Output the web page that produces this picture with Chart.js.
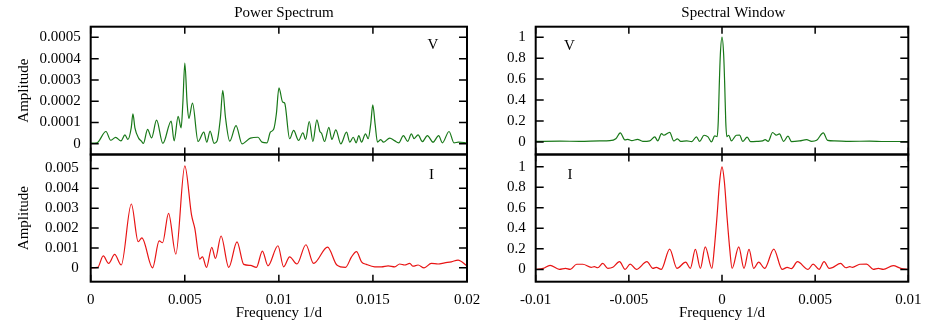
<!DOCTYPE html>
<html>
<head>
<meta charset="utf-8">
<script src="https://cdn.jsdelivr.net/npm/chart.js@4.4.0/dist/chart.umd.min.js"></script>
<style>
  html, body { margin: 0; padding: 0; background: #fff; }
  #wrap { position: relative; width: 926px; height: 324px; }
  #wrap canvas { position: absolute; left: 0; top: 0; }
</style>
</head>
<body>
<div id="wrap">
  <canvas id="psV" width="926" height="324"></canvas>
  <canvas id="psI" width="926" height="324"></canvas>
  <canvas id="swV" width="926" height="324"></canvas>
  <canvas id="swI" width="926" height="324"></canvas>
</div>
<script>
// Power spectrum, V band (frequency 1/d, amplitude)
const psFreqV = [0, 0.000334, 0.000812, 0.001061, 0.001326, 0.001607, 0.00182, 0.001979, 0.002154, 0.002244,
  0.00235, 0.002546, 0.002695, 0.002801, 0.003024, 0.003236, 0.003501, 0.003836, 0.004276, 0.004435,
  0.004647, 0.004806, 0.004897, 0.005003, 0.005125, 0.005215, 0.005411, 0.005708, 0.006011, 0.00617,
  0.006345, 0.006557, 0.006716, 0.006897, 0.007019, 0.007162, 0.00739, 0.007724, 0.008042, 0.008488,
  0.008891, 0.009103, 0.009369, 0.009549, 0.009724, 0.009867, 0.010005, 0.010202, 0.010308, 0.010573,
  0.010785, 0.01105, 0.011278, 0.011422, 0.011618, 0.011809, 0.012021, 0.01218, 0.01227, 0.01243,
  0.012658, 0.012817, 0.013029, 0.013294, 0.013597, 0.013772, 0.013952, 0.014111, 0.014249, 0.014393,
  0.014605, 0.014748, 0.014886, 0.014992, 0.015119, 0.015241, 0.015416, 0.01556, 0.015894, 0.016143,
  0.016371, 0.016621, 0.016848, 0.017045, 0.017188, 0.0174, 0.017629, 0.017894, 0.018196, 0.018493,
  0.018689, 0.019045, 0.01931, 0.019538, 0.02];
const psAmpV = [0.03e-4, 0.05e-4, 0.58e-4, 0.17e-4, 0.30e-4, 0.14e-4, 0.42e-4, 0.21e-4, 0.75e-4, 1.41e-4,
  0.75e-4, 0.27e-4, 0.13e-4, 0.02e-4, 0.68e-4, 0.28e-4, 1.11e-4, 0.02e-4, 1.07e-4, 0.14e-4,
  1.29e-4, 0.75e-4, 1.90e-4, 3.79e-4, 1.90e-4, 1.19e-4, 1.91e-4, 0.11e-4, 0.55e-4, 0.08e-4,
  0.60e-4, 0.02e-4, 0.13e-4, 1.25e-4, 2.51e-4, 1.25e-4, 0.13e-4, 0.86e-4, 0.00e-4, 0.27e-4,
  0.31e-4, 0.08e-4, 0.05e-4, 0.55e-4, 0.68e-4, 1.40e-4, 2.63e-4, 1.96e-4, 1.91e-4, 0.24e-4,
  0.63e-4, 0.16e-4, 0.52e-4, 0.21e-4, 1.05e-4, 0.11e-4, 1.13e-4, 0.58e-4, 0.50e-4, 0.11e-4,
  0.78e-4, 0.21e-4, 0.66e-4, 0.00e-4, 0.55e-4, 0.08e-4, 0.31e-4, 0.05e-4, 0.39e-4, 0.08e-4,
  0.47e-4, 0.24e-4, 0.95e-4, 1.83e-4, 0.90e-4, 0.08e-4, 0.20e-4, 0.08e-4, 0.27e-4, 0.15e-4,
  0.05e-4, 0.39e-4, 0.12e-4, 0.47e-4, 0.25e-4, 0.42e-4, 0.10e-4, 0.39e-4, 0.08e-4, 0.39e-4,
  0.05e-4, 0.58e-4, 0.05e-4, 0.08e-4, 0.05e-4];

// Power spectrum, I band
const psFreqI = [0, 0.000371, 0.000668, 0.000955, 0.001273, 0.001623, 0.00216, 0.002525, 0.002721, 0.003289,
  0.003639, 0.00382, 0.004138, 0.004525, 0.005003, 0.005358, 0.005533, 0.005798, 0.005942, 0.006154,
  0.006435, 0.006631, 0.006928, 0.007337, 0.007777, 0.008133, 0.008488, 0.008806, 0.009125, 0.009422,
  0.009952, 0.010255, 0.010573, 0.01096, 0.011438, 0.011846, 0.012589, 0.013082, 0.013544, 0.013862,
  0.014127, 0.014393, 0.014658, 0.015098, 0.015454, 0.015809, 0.016159, 0.016424, 0.01669, 0.016955,
  0.017135, 0.0174, 0.017719, 0.018106, 0.018461, 0.018812, 0.019167, 0.019522, 0.02];
const psAmpI = [0, 0.02e-3, 0.60e-3, 0.22e-3, 0.67e-3, 0.14e-3, 3.21e-3, 1.31e-3, 1.51e-3, 0,
  1.35e-3, 1.26e-3, 2.74e-3, 0.69e-3, 5.13e-3, 2.66e-3, 1.98e-3, 0.44e-3, 0.55e-3, 0.02e-3,
  1.03e-3, 0.47e-3, 1.60e-3, 0.02e-3, 1.30e-3, 0.17e-3, 0.12e-3, 0.02e-3, 0.84e-3, 0.10e-3,
  1.11e-3, 0.05e-3, 0.55e-3, 0.19e-3, 1.16e-3, 0.22e-3, 1.04e-3, 0.14e-3, 0.02e-3, 0.55e-3,
  0.81e-3, 0.30e-3, 0.17e-3, 0.05e-3, 0.05e-3, 0.10e-3, 0.05e-3, 0.19e-3, 0.14e-3, 0.22e-3,
  0.08e-3, 0.14e-3, 0, 0.22e-3, 0.19e-3, 0.25e-3, 0.30e-3, 0.39e-3, 0.10e-3];

// Spectral window, V band
const swFreqV = [-0.01, -0.008703, -0.00763, -0.006558, -0.006022, -0.0057, -0.005459, -0.005217, -0.005056, -0.004842,
  -0.004536, -0.004252, -0.003877, -0.003609, -0.003448, -0.003249, -0.003126, -0.002804, -0.00259, -0.002391,
  -0.002215, -0.001893, -0.001625, -0.001373, -0.001196, -0.000965, -0.000751, -0.000568, -0.000391, -0.00026,
  -0.0002, -0.00015, -0.00009, 0, 0.00009, 0.00015, 0.0002, 0.00026, 0.000359, 0.000504,
  0.000772, 0.000949, 0.00111, 0.001351, 0.001539, 0.001861, 0.002182, 0.002316, 0.002477, 0.002719,
  0.002917, 0.003083, 0.003308, 0.003539, 0.003737, 0.004166, 0.004542, 0.00481, 0.005078, 0.005437,
  0.005668, 0.006043, 0.006847, 0.00792, 0.008724, 0.01];
const swAmpV = [0.005, 0.008, 0.005, 0.01, 0.012, 0.03, 0.087, 0.02, 0.025, 0.012,
  0.025, 0.005, 0.01, 0.048, 0.01, 0.08, 0.064, 0.092, 0.01, 0.03,
  0.005, 0.01, 0.003, 0.048, 0.005, 0.064, 0.048, 0, 0.057, 0.05,
  0.2, 0.52, 0.83, 1.0, 0.83, 0.52, 0.2, 0.05, 0.064, 0.01,
  0.064, 0.065, 0.005, 0.045, 0.003, 0.005, 0.01, 0.022, 0.005, 0.09,
  0.065, 0.077, 0.005, 0.055, 0.003, 0.01, 0.022, 0.005, 0.015, 0.087,
  0.015, 0.01, 0.005, 0.008, 0.004, 0.004];

// Spectral window, I band
const swFreqI = [-0.01, -0.0096, -0.00923, -0.00873, -0.0084, -0.00815, -0.0078, -0.00747, -0.00702, -0.00685,
  -0.00667, -0.0064, -0.00613, -0.00586, -0.0055, -0.0052, -0.00493, -0.0046, -0.00403, -0.00371,
  -0.00353, -0.00326, -0.00281, -0.00242, -0.00195, -0.0017, -0.00143, -0.00116, -0.0009, -0.00054,
  -0.00042, -0.00027, -0.00013, 0, 0.00013, 0.00027, 0.00042, 0.00054, 0.0009, 0.00118,
  0.00145, 0.0017, 0.00197, 0.00229, 0.00278, 0.00323, 0.0035, 0.00373, 0.00405, 0.00462,
  0.00489, 0.00521, 0.00548, 0.00575, 0.00596, 0.00636, 0.00665, 0.00686, 0.007, 0.0074,
  0.00776, 0.00812, 0.00839, 0.00866, 0.00919, 0.0096, 0.01];
const swAmpI = [0, 0.01, 0.04, 0, 0.01, 0, 0.05, 0.05, 0.02, 0.026,
  0.016, 0.058, 0.01, 0.02, 0.075, 0, 0.052, 0, 0.075, 0.01,
  0.02, 0, 0.198, 0.01, 0.071, 0.01, 0.195, 0.01, 0.22, 0.01,
  0.19, 0.51, 0.85, 1.0, 0.85, 0.51, 0.19, 0.01, 0.22, 0.01,
  0.195, 0.01, 0.071, 0.01, 0.198, 0, 0.02, 0.008, 0.075, 0,
  0.052, 0, 0.075, 0.01, 0.02, 0.058, 0.016, 0.026, 0.02, 0.05,
  0.052, 0, 0.01, 0, 0.036, 0.01, 0];

// tick values
const psXTicks = [0, 0.005, 0.01, 0.015, 0.02];
const swXTicks = [-0.01, -0.005, 0, 0.005, 0.01];
const psYTicksV = [0, 0.0001, 0.0002, 0.0003, 0.0004, 0.0005];
const psYTicksI = [0, 0.001, 0.002, 0.003, 0.004, 0.005];
const swYTicks = [0, 0.2, 0.4, 0.6, 0.8, 1];

// layout of the four frames (pixels)
const W = 926, H = 324;
const leftL = 90.7, leftR = 467, rightL = 535.7, rightR = 908.3;
const rowTop = 26.7, rowMid = 154.5, rowBot = 281.7;
const axisW = 80;

Chart.defaults.font.family = '"Liberation Serif", "DejaVu Serif", serif';
Chart.defaults.font.size = 15;
Chart.defaults.color = '#000';

// gnuplot style frame with inward ticks on all four sides
const framePlugin = {
  id: 'frame',
  afterDraw(chart, args, o) {
    const { ctx, chartArea: a } = chart;
    const x = chart.scales.x, y = chart.scales.y;
    ctx.save();
    ctx.strokeStyle = '#000';
    ctx.lineWidth = 1.5;
    ctx.beginPath();
    o.xTicks.forEach(v => {
      const px = x.getPixelForValue(v);
      ctx.moveTo(px, a.top); ctx.lineTo(px, a.top + 7);
      ctx.moveTo(px, a.bottom); ctx.lineTo(px, a.bottom - 7);
    });
    o.yTicks.forEach(v => {
      const py = y.getPixelForValue(v);
      ctx.moveTo(a.left, py); ctx.lineTo(a.left + 8, py);
      ctx.moveTo(a.right, py); ctx.lineTo(a.right - 8, py);
    });
    ctx.stroke();
    ctx.lineWidth = 2;
    ctx.strokeRect(a.left, a.top, a.right - a.left, a.bottom - a.top);
    ctx.fillStyle = '#000';
    ctx.font = '15px "Liberation Serif", serif';
    ctx.textAlign = 'center';
    ctx.textBaseline = 'alphabetic';
    ctx.fillText(o.tag, o.tagX, o.tagY);
    if (o.title) ctx.fillText(o.title, o.titleX, 17);
    ctx.restore();
  }
};

function makePanel(id, p) {
  return new Chart(document.getElementById(id), {
    type: 'line',
    data: {
      datasets: [{
        data: p.freq.map((f, i) => ({ x: f, y: p.amp[i] })),
        borderColor: p.color,
        borderWidth: 1.2,
        pointRadius: 0,
        fill: false,
        cubicInterpolationMode: 'monotone'
      }]
    },
    options: {
      responsive: false,
      animation: false,
      devicePixelRatio: 1,
      events: [],
      layout: {
        padding: {
          left: p.left - axisW,
          right: W - p.right,
          top: p.top,
          bottom: p.showX ? 0 : H - p.bottom
        }
      },
      plugins: {
        legend: { display: false },
        tooltip: { enabled: false },
        frame: {
          xTicks: p.xTicks, yTicks: p.yTicks,
          tag: p.tag, tagX: p.tagX, tagY: p.tagY,
          title: p.title, titleX: p.titleX
        }
      },
      scales: {
        x: {
          type: 'linear',
          min: p.xTicks[0],
          max: p.xTicks[p.xTicks.length - 1],
          display: p.showX,
          grid: { display: false, drawTicks: false },
          border: { display: false },
          ticks: { padding: 9, autoSkip: false, maxRotation: 0, callback: v => String(v) },
          afterBuildTicks: s => { s.ticks = p.xTicks.map(v => ({ value: v })); },
          afterFit: s => {
            s.paddingLeft = 0;
            s.paddingRight = 0;
            if (p.showX) s.height = H - p.bottom;
          },
          title: { display: true, text: 'Frequency 1/d', padding: { top: 0, bottom: 2 } }
        },
        y: {
          min: p.yMin,
          max: p.yMax,
          grid: { display: false, drawTicks: false },
          border: { display: false },
          ticks: { padding: p.yPad, autoSkip: false, callback: v => String(v) },
          afterBuildTicks: s => { s.ticks = p.yTicks.map(v => ({ value: v })); },
          afterFit: s => {
            s.paddingTop = 0;
            s.paddingBottom = 0;
            s.width = axisW;
          },
          title: { display: p.yTitle, text: 'Amplitude', padding: { top: 4.5, bottom: 0 } }
        }
      }
    },
    plugins: [framePlugin]
  });
}

const green = '#187818', red = '#e81414';

makePanel('psV', {
  freq: psFreqV, amp: psAmpV, color: green,
  left: leftL, right: leftR, top: rowTop, bottom: rowMid, showX: false,
  xTicks: psXTicks, yTicks: psYTicksV, yMin: -0.00005, yMax: 0.00055, yPad: 10, yTitle: true,
  tag: 'V', tagX: 432.8, tagY: 48.7, title: 'Power Spectrum', titleX: 284
});
makePanel('psI', {
  freq: psFreqI, amp: psAmpI, color: red,
  left: leftL, right: leftR, top: rowMid, bottom: rowBot, showX: true,
  xTicks: psXTicks, yTicks: psYTicksI, yMin: -0.0007, yMax: 0.0057, yPad: 12, yTitle: true,
  tag: 'I', tagX: 431.5, tagY: 179.3
});
makePanel('swV', {
  freq: swFreqV, amp: swAmpV, color: green,
  left: rightL, right: rightR, top: rowTop, bottom: rowMid, showX: false,
  xTicks: swXTicks, yTicks: swYTicks, yMin: -0.12, yMax: 1.1, yPad: 10, yTitle: false,
  tag: 'V', tagX: 569.5, tagY: 49.5, title: 'Spectral Window', titleX: 733.3
});
makePanel('swI', {
  freq: swFreqI, amp: swAmpI, color: red,
  left: rightL, right: rightR, top: rowMid, bottom: rowBot, showX: true,
  xTicks: swXTicks, yTicks: swYTicks, yMin: -0.12, yMax: 1.12, yPad: 10, yTitle: false,
  tag: 'I', tagX: 570, tagY: 178.5
});
</script>
</body>
</html>
